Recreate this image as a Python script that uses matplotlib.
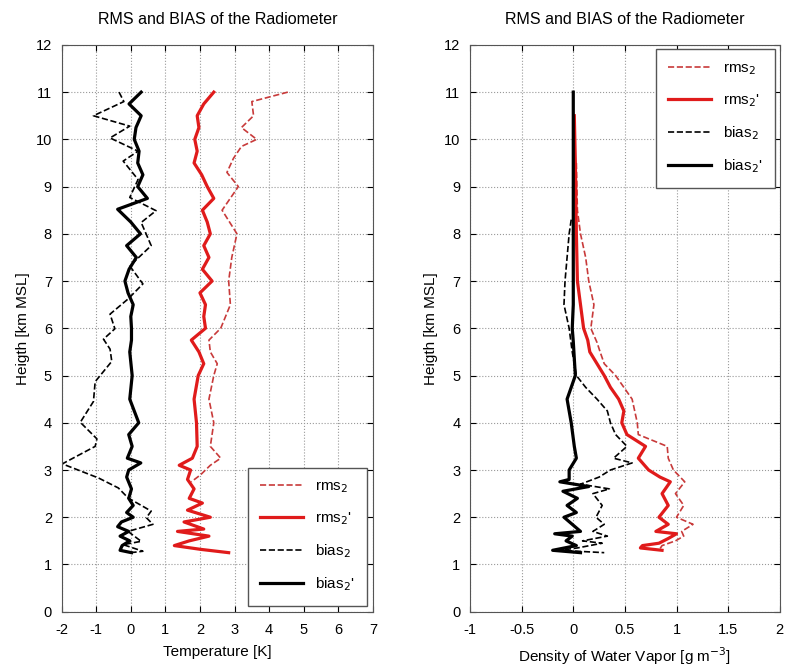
import numpy as np
import matplotlib
matplotlib.use('Agg')
import matplotlib.pyplot as plt

plt.rcParams['font.family'] = ['Liberation Sans', 'DejaVu Sans']
plt.rcParams['axes.unicode_minus'] = False

# ---- left panel: temperature [K] ----
h_rms_T = [11, 10.8, 10.5, 10.25, 10, 9.85, 9.6, 9.3, 9.0, 8.5, 8.0, 7.5, 7.0, 6.5, 6.0, 5.75, 5.5,
           5.25, 5.0, 4.5, 4.0, 3.5, 3.25, 3.1, 2.9, 2.75]
rms_T = [4.54, 3.5, 3.55, 3.2, 3.64, 3.2, 2.97, 2.78, 3.11, 2.64, 3.07, 2.92, 2.83, 2.88, 2.6, 2.26, 2.3,
         2.5, 2.4, 2.26, 2.4, 2.3, 2.6, 2.3, 2.02, 1.75]

h_rmsp_T = [11, 10.75, 10.5, 10.25, 10, 9.75, 9.5, 9.25, 9, 8.75, 8.5, 8.25, 8, 7.75, 7.5, 7.25, 7,
            6.75, 6.5, 6.25, 6, 5.75, 5.5, 5.25, 5, 4.5, 4, 3.5, 3.25, 3.1, 3.0, 2.8, 2.6, 2.4,
            2.3, 2.15, 2.0, 1.9, 1.75, 1.7, 1.6, 1.5, 1.4, 1.32, 1.25]
rmsp_T = [2.4, 2.11, 1.92, 1.97, 1.85, 1.92, 1.83, 2.05, 2.21, 2.4, 2.07, 2.21, 2.3, 2.11, 2.26, 2.07, 2.35,
          2.0, 2.16, 2.11, 2.16, 1.75, 1.97, 2.11, 1.95, 1.83, 1.9, 1.92, 1.78, 1.4, 1.73, 1.64, 1.83, 1.69,
          2.07, 1.64, 2.3, 1.54, 2.11, 1.35, 2.26, 1.69, 1.26, 2.02, 2.83]

h_bias_T = [11, 10.8, 10.5, 10.28, 10.03, 9.75, 9.54, 9.15, 8.77, 8.49, 8.24, 7.75, 7.32, 6.94, 6.62,
            6.3, 5.99, 5.77, 5.56, 5.3, 4.87, 4.45, 4.01, 3.66, 3.5, 3.13, 2.83, 2.62, 2.41, 2.13,
            1.99, 1.85, 1.7, 1.49, 1.42, 1.28, 1.25]
bias_T = [-0.34, -0.2, -1.08, -0.03, -0.6, 0.21, -0.22, 0.21, -0.03, 0.73, 0.3, 0.59, -0.03, 0.35, -0.08,
          -0.6, -0.46, -0.79, -0.6, -0.55, -1.03, -1.08, -1.46, -0.98, -1.03, -1.98, -0.93, -0.36, -0.08, 0.59,
          0.45, 0.64, -0.08, 0.3, -0.22, 0.35, 0.0]

h_biasp_T = [11, 10.75, 10.5, 10.25, 10, 9.75, 9.5, 9.25, 9, 8.75, 8.52, 8.25, 8, 7.75, 7.5, 7.25, 7,
             6.75, 6.5, 6.25, 6, 5.75, 5.5, 5, 4.5, 4, 3.75, 3.5, 3.25, 3.15, 3, 2.85, 2.6, 2.4, 2.25,
             2.1, 2.0, 1.9, 1.8, 1.7, 1.6, 1.5, 1.4, 1.3, 1.25]
biasp_T = [0.3, -0.05, 0.3, 0.15, 0.1, 0.24, 0.2, 0.35, 0.2, 0.48, -0.38, 0.0, 0.28, -0.12, 0.16, -0.05, -0.17,
           -0.08, 0.07, 0.0, 0.02, 0.02, -0.03, 0.04, -0.03, 0.23, -0.06, 0.04, -0.1, 0.29, -0.06, -0.12, 0.02,
           -0.06, 0.07, -0.12, 0.07, -0.27, -0.38, -0.06, -0.31, -0.03, -0.25, -0.31, 0.02]

# ---- right panel: water vapour density [g m^-3] ----
h_rms_W = [9.5, 8.5, 8.0, 7.5, 7.0, 6.5, 6.0, 5.7, 5.5, 5.25, 5.0, 4.5, 4.0, 3.75, 3.5, 3.25, 3.0, 2.75,
           2.5, 2.25, 2.0, 1.85, 1.7, 1.6, 1.5, 1.4, 1.3]
rms_W = [0.03, 0.04, 0.07, 0.12, 0.15, 0.2, 0.17, 0.23, 0.26, 0.3, 0.41, 0.57, 0.62, 0.63, 0.91, 0.92, 0.97,
         1.08, 0.99, 1.07, 1.0, 1.16, 1.05, 1.07, 0.99, 0.86, 0.83]

h_rmsp_W = [10.5, 9.5, 8.0, 7.0, 6.5, 6.0, 5.75, 5.5, 5.0, 4.75, 4.5, 4.25, 4.0, 3.75, 3.5, 3.25, 3.0, 2.85,
            2.75, 2.5, 2.25, 2.0, 1.85, 1.7, 1.65, 1.55, 1.45, 1.4, 1.35, 1.3]
rmsp_W = [0.01, 0.02, 0.03, 0.04, 0.07, 0.1, 0.14, 0.16, 0.3, 0.36, 0.44, 0.49, 0.47, 0.52, 0.7, 0.63, 0.73,
          0.84, 0.94, 0.86, 0.92, 0.83, 0.92, 0.8, 1.0, 0.92, 0.83, 0.67, 0.65, 0.86]

h_bias_W = [8.3, 8.0, 7.5, 7.0, 6.5, 6.0, 5.5, 5.0, 4.75, 4.5, 4.25, 4.0, 3.75, 3.5, 3.25, 3.15, 3.0, 2.85,
            2.7, 2.6, 2.5, 2.25, 2.0, 1.85, 1.7, 1.6, 1.5, 1.45, 1.35, 1.3, 1.25]
bias_W = [-0.02, -0.04, -0.06, -0.08, -0.09, -0.04, -0.01, 0.03, 0.12, 0.23, 0.33, 0.36, 0.41, 0.52, 0.39,
          0.57, 0.36, 0.25, 0.07, 0.35, 0.19, 0.28, 0.22, 0.3, 0.19, 0.33, 0.09, 0.28, 0.04, -0.13, 0.3]

h_biasp_W = [11, 10, 9, 8, 7, 6.5, 6.0, 5.72, 5.0, 4.5, 4.0, 3.5, 3.25, 3.0, 2.8, 2.75, 2.65, 2.55, 2.4,
             2.25, 2.1, 2.0, 1.85, 1.7, 1.65, 1.6, 1.5, 1.4, 1.3, 1.25]
biasp_W = [0.0, 0.0, 0.0, 0.0, 0.0, 0.0, -0.01, 0.0, 0.02, -0.06, -0.02, 0.01, 0.03, -0.04, -0.04, -0.13,
           0.15, -0.1, 0.04, -0.06, 0.03, -0.09, -0.01, 0.07, -0.18, -0.01, -0.07, 0.03, -0.2, 0.07]

red_solid = '#e01b1b'
red_dash = '#c83a3a'

fig = plt.figure(figsize=(7.9, 6.7), dpi=100)
ax1 = fig.add_axes([0.078, 0.087, 0.394, 0.846])
ax2 = fig.add_axes([0.595, 0.087, 0.392, 0.846])

def style(ax):
	ax.set_ylim(0, 12)
	ax.set_yticks(range(0, 13))
	ax.grid(True, linestyle=':', color='#999999', linewidth=0.8)
	ax.tick_params(direction='in', top=True, right=True, labelsize=10.5, length=4)
	ax.tick_params(axis='x', pad=8)
	ax.tick_params(axis='y', pad=7)
	ax.set_ylabel('Heigth [km MSL]', fontsize=11)
	ax.set_title('RMS and BIAS of the Radiometer', fontsize=11.5, pad=15)
	for s in ax.spines.values():
		s.set_color('#555555')

ax1.plot(rms_T, h_rms_T, '--', color=red_dash, lw=1.2, label='rms$_2$')
ax1.plot(rmsp_T, h_rmsp_T, '-', color=red_solid, lw=2.3, label="rms$_2$'")
ax1.plot(bias_T, h_bias_T, '--', color='k', lw=1.2, label='bias$_2$')
ax1.plot(biasp_T, h_biasp_T, '-', color='k', lw=2.3, label="bias$_2$'")
ax1.set_xlim(-2, 7)
ax1.set_xticks(range(-2, 8))
ax1.set_xlabel('Temperature [K]', fontsize=11, labelpad=6)
style(ax1)
ax1.legend(loc='lower right', fontsize=11, fancybox=False, edgecolor='#555555', handlelength=2.8,
	labelspacing=1.0, borderpad=0.8, framealpha=1, borderaxespad=0.4)

ax2.plot(rms_W, h_rms_W, '--', color=red_dash, lw=1.2, label='rms$_2$')
ax2.plot(rmsp_W, h_rmsp_W, '-', color=red_solid, lw=2.3, label="rms$_2$'")
ax2.plot(bias_W, h_bias_W, '--', color='k', lw=1.2, label='bias$_2$')
ax2.plot(biasp_W, h_biasp_W, '-', color='k', lw=2.3, label="bias$_2$'")
ax2.set_xlim(-1, 2)
ax2.set_xticks([-1, -0.5, 0, 0.5, 1, 1.5, 2])
ax2.set_xticklabels(['-1', '-0.5', '0', '0.5', '1', '1.5', '2'])
ax2.set_xlabel('Density of Water Vapor [g m$^{-3}$]', fontsize=11, labelpad=6)
style(ax2)
ax2.legend(loc='upper right', fontsize=11, fancybox=False, edgecolor='#555555', handlelength=2.8,
	labelspacing=1.0, borderpad=0.8, framealpha=1, borderaxespad=0.3)

plt.savefig('out.png', dpi=100)
